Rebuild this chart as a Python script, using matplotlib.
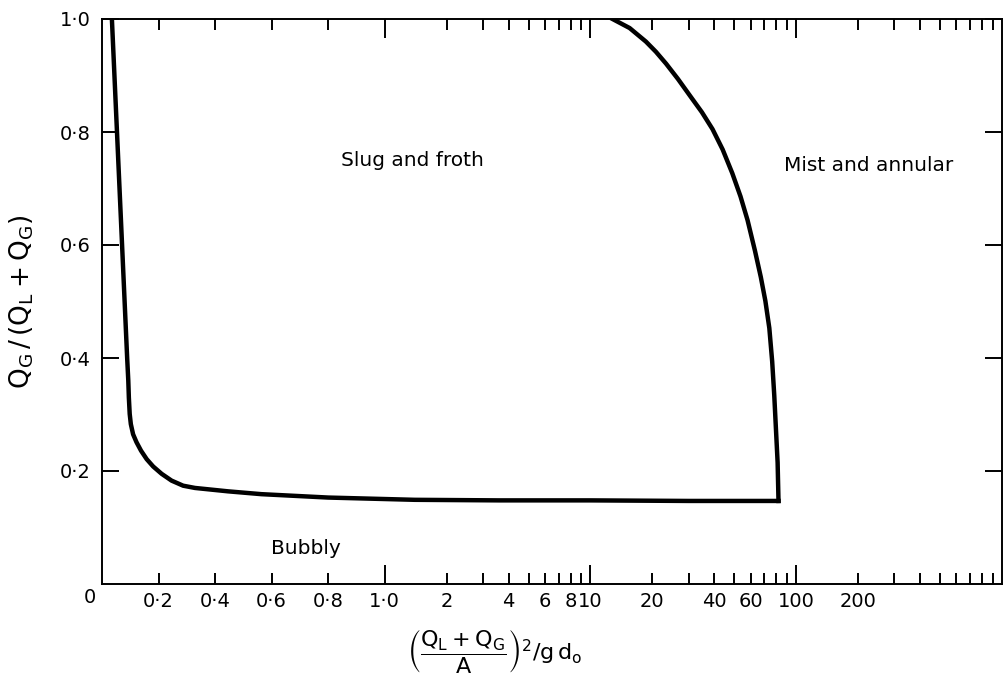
import numpy as np
import matplotlib
matplotlib.use("Agg")
import matplotlib.pyplot as plt

# boundary bubbly / slug (left branch + bottom)
bub_x = [0.035, 0.053, 0.071, 0.089, 0.093, 0.095, 0.098, 0.102, 0.110, 0.122,
         0.138, 0.158, 0.181, 0.211, 0.246, 0.287, 0.329, 0.446, 0.564, 0.800,
         1.4, 3.6, 10.0, 30.0, 82.0]
bub_y = [1.0, 0.80, 0.60, 0.40, 0.360, 0.330, 0.301, 0.283, 0.265, 0.251,
         0.236, 0.221, 0.208, 0.195, 0.183, 0.174, 0.170, 0.164, 0.159, 0.153,
         0.149, 0.148, 0.148, 0.147, 0.147]

# boundary slug / mist (right branch)
mist_x = [12.8, 15.5, 18.6, 20.8, 23.3, 26.6, 30.9, 34.8, 39.2, 43.9, 48.9,
          53.6, 58.0, 63.0, 67.3, 70.8, 74.0, 76.4, 78.2, 79.7, 81.2, 82.0]
mist_y = [1.0, 0.984, 0.960, 0.942, 0.921, 0.894, 0.861, 0.835, 0.805, 0.769, 0.727,
          0.686, 0.644, 0.590, 0.543, 0.501, 0.453, 0.394, 0.334, 0.274, 0.215, 0.147]

# x tick positions / labels
long_ticks = [1, 10, 100]
long_labels = ["1·0", "10", "100"]
short_ticks = [0.2, 0.4, 0.6, 0.8, 2, 3, 4, 5, 6, 7, 8, 9,
               20, 30, 40, 50, 60, 70, 80, 90,
               200, 300, 400, 500, 600, 700, 800, 900]
short_labels = ["0·2", "0·4", "0·6", "0·8", "2", "", "4", "", "6", "", "8", "",
                "20", "", "40", "", "60", "", "", "",
                "200", "", "", "", "", "", "", ""]
y_ticks = [0.2, 0.4, 0.6, 0.8, 1.0]
y_labels = ["0·2", "0·4", "0·6", "0·8", "1·0"]

regions = ["Slug and froth", "Mist and annular", "Bubbly"]
region_x = [1.37, 225, 0.72]
region_y = [0.75, 0.74, 0.062]

# linear from 0 to 1, then log above 1
K = 206 / 283.0


def fwd(x):
    x = np.asarray(x, dtype=float)
    return np.where(x <= 1, x, 1 + np.log10(np.maximum(x, 1)) * K)


def inv(t):
    t = np.asarray(t, dtype=float)
    return np.where(t <= 1, t, 10 ** ((np.maximum(t, 1) - 1) / K))


fig = plt.figure(figsize=(10.06, 6.89), dpi=100)
ax = fig.add_axes([102 / 1006, 1 - 584 / 689, 900 / 1006, 565 / 689])
ax.set_xscale("function", functions=(fwd, inv))
ax.set_xlim(0, 1000)
ax.set_ylim(0, 1.0)

ax.plot(bub_x, bub_y, color="black", lw=3.2, solid_joinstyle="round")
ax.plot(mist_x, mist_y, color="black", lw=3.2, solid_joinstyle="round")

for s in ax.spines.values():
    s.set_linewidth(1.4)

ax.set_xticks(long_ticks, labels=long_labels)
ax.set_xticks(short_ticks, labels=short_labels, minor=True)
ax.set_yticks(y_ticks, labels=y_labels)
ax.tick_params(axis="x", which="major", direction="in", top=True, length=14,
               width=1.4, labelsize=14, pad=6)
ax.tick_params(axis="x", which="minor", direction="in", top=True, length=8,
               width=1.4, labelsize=14, pad=6)
ax.tick_params(axis="y", which="major", direction="in", right=True, length=12,
               width=1.4, labelsize=14, pad=8)
ax.yaxis.set_minor_locator(plt.NullLocator())

ax.annotate("0", xy=(0, 0), xytext=(-9, -10), textcoords="offset points",
            ha="center", va="center", fontsize=14)

for name, x, y in zip(regions, region_x, region_y):
    ax.text(x, y, name, ha="center", va="center", fontsize=14.5)

fig.text(0.022, 1 - 302 / 689,
         r"$\mathrm{Q}_\mathrm{G}\,/\,(\mathrm{Q}_\mathrm{L}+\mathrm{Q}_\mathrm{G})$",
         rotation=90, ha="center", va="center", fontsize=19)
fig.text(0.492, 1 - 651 / 689,
         r"$\left(\dfrac{\mathrm{Q}_\mathrm{L}+\mathrm{Q}_\mathrm{G}}{\mathrm{A}}\right)^{2}/\mathrm{g}\,\mathrm{d}_\mathrm{o}$",
         ha="center", va="center", fontsize=16)

fig.savefig("out.png", dpi=100)
